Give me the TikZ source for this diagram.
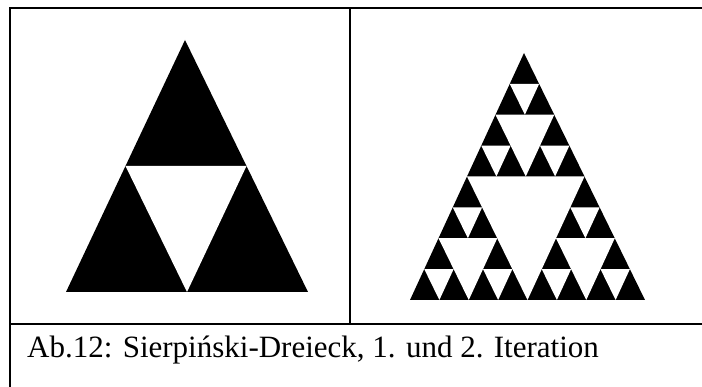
\documentclass[tikz,border=0pt]{standalone}
\usepackage{fontspec}
\setmainfont{Liberation Serif}
\usetikzlibrary{calc}
% #1 prefix, #2 #3 #4 corners (top, left, right)
\newcommand\sierhole[4]{%
 \coordinate (#1a) at ($(#2)!0.5!(#3)$);
 \coordinate (#1b) at ($(#3)!0.5!(#4)$);
 \coordinate (#1c) at ($(#2)!0.5!(#4)$);
 \fill[white] (#1a) -- (#1b) -- (#1c) -- cycle;}
\tikzset{
  rule/.style={line width=2.2pt, black},
  caption/.style={anchor=base west, inner sep=0pt, font=\fontsize{31}{36}\selectfont}
}
\begin{document}
\begin{tikzpicture}[x=1pt,y=-1pt]
\useasboundingbox (0,0) rectangle (702,387);
% table rules
\draw[rule] (9.7,387) -- (9.7,7.7) -- (702,7.7);
\draw[rule] (350,7.7) -- (350,324);
\draw[rule] (9.7,324) -- (702,324);
% first iteration
\coordinate (A1) at (185,40);
\coordinate (B1) at (66,292);
\coordinate (C1) at (308,292);
\fill[black] (A1) -- (B1) -- (C1) -- cycle;
\sierhole{q}{A1}{B1}{C1}
% second figure
\coordinate (A2) at (524,53);
\coordinate (B2) at (410,300);
\coordinate (C2) at (645,300);
\fill[black] (A2) -- (B2) -- (C2) -- cycle;
\sierhole{p}{A2}{B2}{C2}
\sierhole{pA}{A2}{pa}{pc}
\sierhole{pB}{pa}{B2}{pb}
\sierhole{pC}{pc}{pb}{C2}
\sierhole{pAA}{A2}{pAa}{pAc}
\sierhole{pAB}{pAa}{pa}{pAb}
\sierhole{pAC}{pAc}{pAb}{pc}
\sierhole{pBA}{pa}{pBa}{pBc}
\sierhole{pBB}{pBa}{B2}{pBb}
\sierhole{pBC}{pBc}{pBb}{pb}
\sierhole{pCA}{pc}{pCa}{pCc}
\sierhole{pCB}{pCa}{pb}{pCb}
\sierhole{pCC}{pCc}{pCb}{C2}
% caption
\node[caption] (cap) at (27,358) {Ab.12: Sierpiński-Dreieck, 1. und 2. Iteration};
\end{tikzpicture}
\end{document}
